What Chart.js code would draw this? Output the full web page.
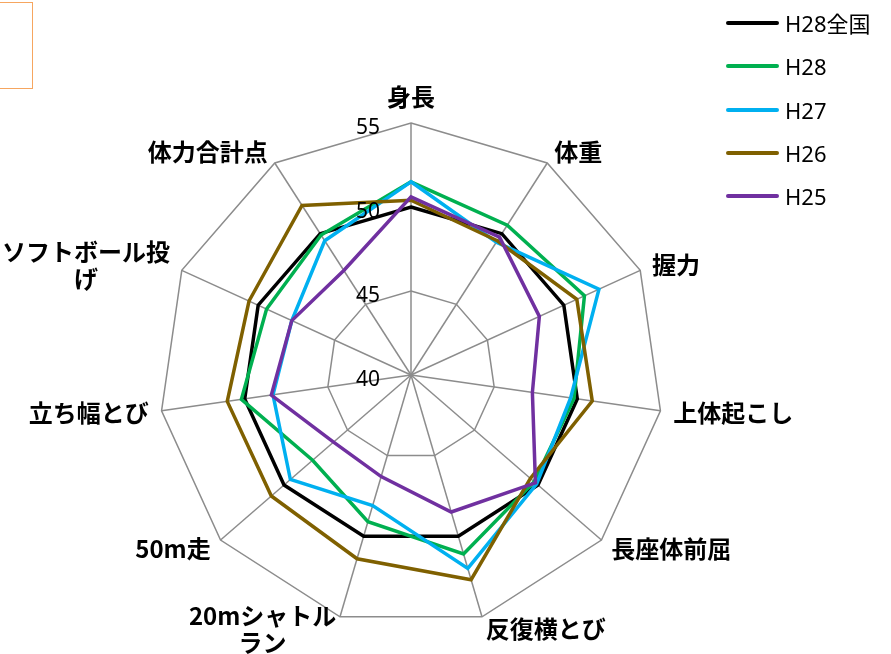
<!DOCTYPE html>
<html>
<head>
<meta charset="utf-8">
<script src="https://cdn.jsdelivr.net/npm/chart.js@4.4.0/dist/chart.umd.min.js"></script>
<style>
  body { margin: 0; background: #fff; }
  #wrap { position: relative; width: 891px; height: 654px; overflow: hidden; }
  #box { position: absolute; left: -10px; top: 2px; width: 43px; height: 87px; border: 1.5px solid #f6a660; box-sizing: border-box; }
  .item { position: absolute; left: 726px; height: 26px; }
  .swatch { position: absolute; left: 0; top: 11px; width: 53px; height: 4px; border-radius: 2px; }
  .txt { position: absolute; left: 59px; top: 0; font-size: 22px; font-family: "Noto Sans", "Noto Sans CJK JP", sans-serif; line-height: 26px; white-space: nowrap; color: #000; }
</style>
</head>
<body>
<div id="wrap">
  <canvas id="myChart" width="891" height="654"></canvas>
  <div id="box"></div>
  <div id="legend"></div>
</div>
<script>
// 項目 (axis labels)
const categories = ['身長', '体重', '握力', '上体起こし', '長座体前屈', '反復横とび',
    ['20mシャトル', 'ラン'], '50m走', '立ち幅とび', ['ソフトボール投', 'げ'], '体力合計点'];

const seriesNames = ['H28全国', 'H28', 'H27', 'H26', 'H25'];
const seriesColors = ['#000000', '#00b050', '#00b0f0', '#7f6000', '#7030a0'];

const h28zenkoku = [50, 50, 50, 50, 50, 50, 50, 50, 50, 50, 50];
const h28 = [51.5, 50.6, 51.35, 49.8, 49.7, 51.1, 49.1, 47.75, 50.2, 49.45, 49.9];
const h27 = [51.5, 49.4, 52.3, 49.6, 49.9, 52.0, 48.1, 49.5, 48.3, 47.8, 49.5];
const h26 = [50.4, 49.5, 50.85, 50.9, 49.4, 52.7, 51.4, 51.0, 51.05, 50.6, 52.0];
const h25 = [50.6, 49.75, 48.4, 47.3, 49.8, 48.5, 46.3, 46.1, 48.4, 47.8, 47.4];

const tickValues = [40, 45, 50, 55];

const seriesData = [h28zenkoku, h28, h27, h26, h25];

// tick labels and axis labels are drawn here so they can sit where excel puts them
const labelPlugin = {
    id: 'labelPlugin',
    afterDatasetsDraw(chart) {
        const scale = chart.scales.r;
        const ctx = chart.ctx;
        ctx.save();
        ctx.fillStyle = '#000';
        ctx.font = '21px "Noto Sans", sans-serif';
        ctx.textAlign = 'right';
        ctx.textBaseline = 'middle';
        tickValues.forEach(v => {
            const d = scale.getDistanceFromCenterForValue(v);
            ctx.fillText(String(v), scale.xCenter - 31, scale.yCenter - d + 5);
        });

        ctx.font = 'bold 24px "Noto Sans CJK JP", sans-serif';
        const lh = 27;
        const n = chart.data.labels.length;
        chart.data.labels.forEach((lab, i) => {
            const lines = Array.isArray(lab) ? lab : [lab];
            const p = scale.getPointPosition(i, scale.drawingArea + 13);
            const deg = Math.round(i * 360 / n) % 360;
            const w = Math.max(...lines.map(s => ctx.measureText(s).width));
            let x0;
            if (deg === 0 || deg === 180) x0 = p.x - w / 2;
            else if (deg < 180) x0 = p.x;
            else x0 = p.x - w;
            const h = lines.length * lh;
            const top = deg === 0 ? p.y - h : p.y - h / 2;
            ctx.textAlign = 'center';
            lines.forEach((s, k) => ctx.fillText(s, x0 + w / 2, top + lh * k + lh / 2));
        });
        ctx.restore();
    }
};

const ctx = document.getElementById('myChart').getContext('2d');

const myChart = new Chart(ctx, {
    type: 'radar',
    data: {
        labels: categories,
        datasets: seriesNames.map((name, i) => ({
            label: name,
            data: seriesData[i],
            borderColor: seriesColors[i],
            backgroundColor: 'transparent',
            borderWidth: 3.5,
            pointRadius: 0,
            fill: false,
            tension: 0,
            order: seriesNames.length - i
        }))
    },
    options: {
        responsive: false,
        animation: false,
        layout: {
            padding: { left: 159, right: 228, top: 123, bottom: 27 }
        },
        plugins: {
            legend: { display: false },
            tooltip: { enabled: false }
        },
        scales: {
            r: {
                min: 40,
                max: 55,
                ticks: { stepSize: 5, display: false, showLabelBackdrop: false },
                grid: { color: '#8c8c8c', lineWidth: 1.5, circular: false },
                angleLines: { color: '#8c8c8c', lineWidth: 1.5 },
                pointLabels: { display: false }
            }
        }
    },
    plugins: [labelPlugin]
});

// legend on the right
const legend = document.getElementById('legend');
seriesNames.forEach((name, i) => {
    const item = document.createElement('div');
    item.className = 'item';
    item.style.top = (10 + i * 43.3) + 'px';
    item.innerHTML = '<div class="swatch" style="background:' + seriesColors[i] + '"></div>' +
        '<div class="txt">' + name + '</div>';
    legend.appendChild(item);
});
</script>
</body>
</html>
